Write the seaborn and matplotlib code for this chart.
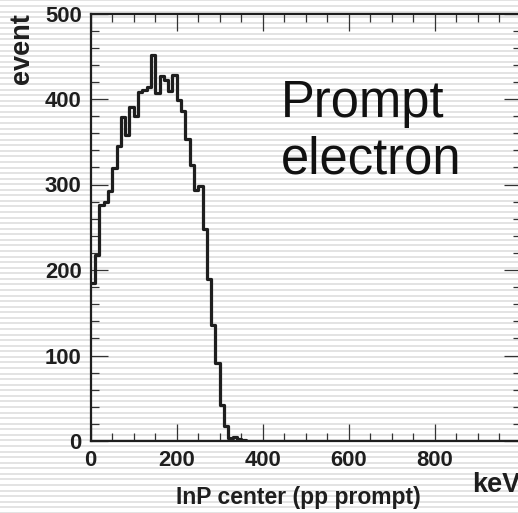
import matplotlib
matplotlib.use("Agg")
import matplotlib.pyplot as plt
from matplotlib.lines import Line2D
from matplotlib.ticker import MultipleLocator
import numpy as np
import pandas as pd
import seaborn as sns

# ---- data ----
bin_width = 10  # keV
counts = [185, 217, 276, 280, 292, 319, 345, 379, 358, 391,
          380, 408, 410, 414, 451, 407, 427, 422, 409, 428,
          399, 386, 353, 323, 293, 298, 248, 189, 136, 91,
          42, 17, 3, 5, 2, 1]
x_ticks = [0, 200, 400, 600, 800, 1000]
x_tick_labels = ["0", "200", "400", "600", "800", ""]
y_ticks = [0, 100, 200, 300, 400, 500]
y_tick_labels = ["0", "100", "200", "300", "400", "500"]
x_label = "InP center (pp prompt)"
y_label = "event"
unit_label = "keV"
annotation = ["Prompt", "electron"]

centers = [bin_width * i + bin_width / 2 for i in range(len(counts))]
df = pd.DataFrame({"energy": centers, "events": counts})

sns.set_style("ticks")
plt.rcParams["font.family"] = ["Liberation Sans", "DejaVu Sans"]

W, H = 518, 513
fig = plt.figure(figsize=(W / 100, H / 100), dpi=100)
fig.patch.set_facecolor("white")

# striped background (horizontal light grey lines over the whole picture)
period = 5.57
y0 = 0.4
k = 0
while y0 + k * period < H + 2:
    ypx = y0 + k * period
    fig.add_artist(Line2D([0, 1], [1 - ypx / H, 1 - ypx / H], transform=fig.transFigure,
                          color="#e3e3e3", lw=1.4, zorder=0))
    k += 1

ax_l, ax_r = 90.7, 520.7
ax_t, ax_b = 13.5, 441.0
ax = fig.add_axes([ax_l / W, 1 - ax_b / H, (ax_r - ax_l) / W, (ax_b - ax_t) / H])
ax.set_facecolor("none")
ax.patch.set_alpha(0)
ax.set_zorder(2)

sns.histplot(data=df, x="energy", weights="events", binwidth=bin_width,
             binrange=(0, bin_width * len(counts)), element="step",
             fill=False, color="#1e1e1e", linewidth=2.3, ax=ax)

ax.set_xlim(0, 1000)
ax.set_ylim(0, 500)
ax.set_xticks(x_ticks)
ax.set_xticklabels(x_tick_labels)
ax.set_yticks(y_ticks)
ax.set_yticklabels(y_tick_labels)
ax.xaxis.set_minor_locator(MultipleLocator(50))
ax.yaxis.set_minor_locator(MultipleLocator(20))

for s in ax.spines.values():
    s.set_visible(True)
    s.set_linewidth(1.6)
    s.set_color("#1e1e1e")

ax.tick_params(which="both", direction="in", top=True, right=True, color="#333333")
ax.tick_params(which="major", length=12, width=0.9, pad=6.5, labelsize=15.8)
ax.tick_params(which="minor", length=6, width=0.9)
for lab in ax.get_xticklabels() + ax.get_yticklabels():
    lab.set_fontweight("bold")
    lab.set_color("#1e1e1e")

ax.set_xlabel(x_label, fontsize=16.5, fontweight="bold", color="#1e1e1e")
ax.xaxis.set_label_coords(0.482, -0.105)
ax.set_ylabel(y_label, fontsize=19.5, fontweight="bold", color="#1e1e1e", loc="top")
ax.yaxis.set_label_coords(-0.13, 1.0)

ax.text(0.886, -0.1186, unit_label, transform=ax.transAxes, ha="left", va="baseline",
        fontsize=19.5, fontweight="bold", color="#1e1e1e")

ax.text(0.442, 0.7586, annotation[0], transform=ax.transAxes, ha="left", va="baseline",
        fontsize=36.5, color="#111111")
ax.text(0.442, 0.626, annotation[1], transform=ax.transAxes, ha="left", va="baseline",
        fontsize=36.5, color="#111111")

fig.savefig("out.png", dpi=100, facecolor="white")
